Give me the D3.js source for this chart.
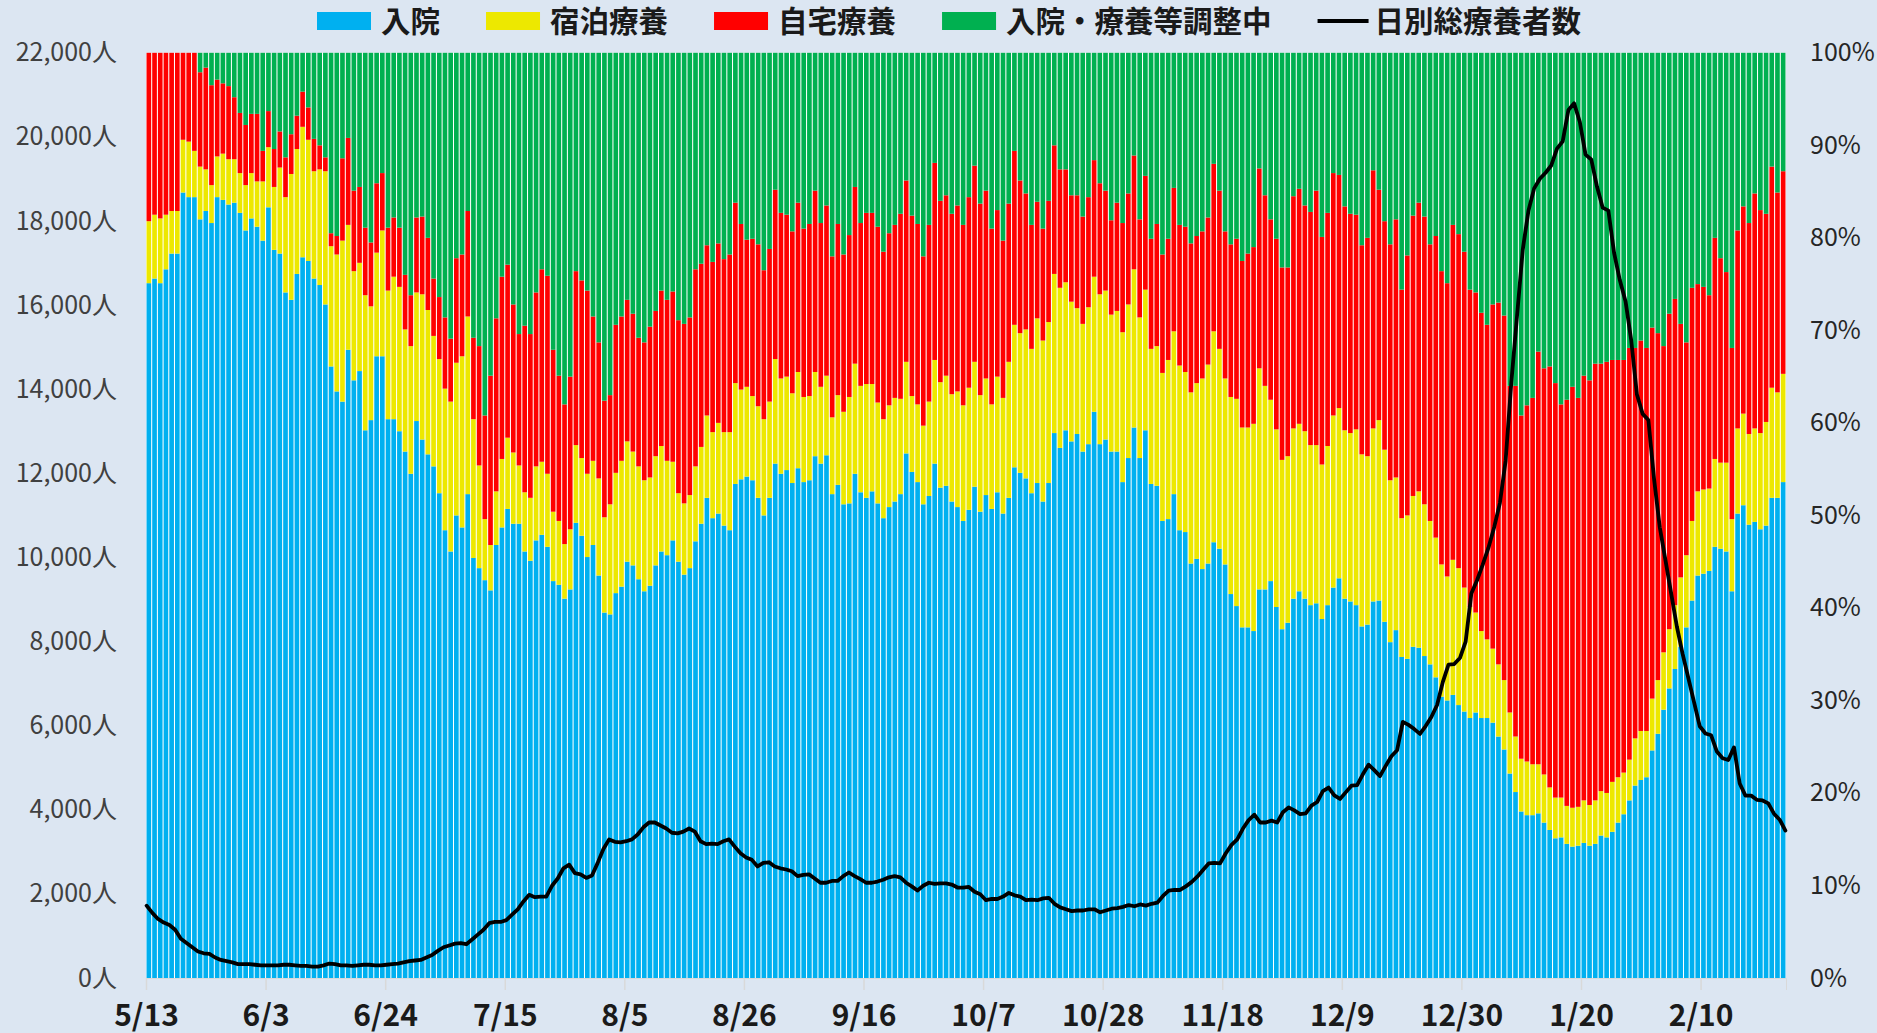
<!DOCTYPE html>
<html>
<head>
<meta charset="utf-8">
<script src="https://cdn.jsdelivr.net/npm/d3@7"></script>
<style>
  body { margin: 0; background: #dce6f2; }
  svg { display: block; font-family: "Noto Sans CJK JP", "Noto Sans", sans-serif; }
</style>
</head>
<body>
<svg id="chart" width="1877" height="1033"></svg>
<script>
const startDate = new Date(2020, 4, 13);
const seriesNames = ['入院', '宿泊療養', '自宅療養', '入院・療養等調整中'];
const seriesColors = ['#00b0f0', '#ede800', '#ff0000', '#00b050'];
const lineName = '日別総療養者数';
const tickLabels = ['5/13', '6/3', '6/24', '7/15', '8/5', '8/26', '9/16', '10/7', '10/28', '11/18', '12/9', '12/30', '1/20', '2/10'];

// share of each group (%), one value per day
const hosp = [
  75.1,75.6,75.1,76.6,78.3,78.3,84.9,84.4,84.4,82.0,
  82.9,81.6,84.4,84.1,83.6,83.8,82.7,80.8,82.1,81.2,
  79.7,83.3,78.7,78.3,74.1,73.3,76.1,77.9,77.5,75.6,
  74.9,72.8,66.1,63.4,62.3,67.9,64.6,65.6,59.2,60.3,
  67.2,67.2,60.4,60.4,59.1,56.9,54.5,60.2,58.2,56.6,
  55.3,52.4,48.4,46.1,50.0,48.7,52.3,45.4,44.3,43.0,
  41.9,46.8,48.7,50.7,49.1,49.1,46.1,45.1,47.3,47.9,
  46.6,42.9,42.5,41.0,42.0,49.2,47.8,45.5,46.8,43.5,
  39.5,39.3,41.6,42.3,45.0,44.6,43.1,41.8,42.4,44.6,
  46.1,45.7,47.3,45.0,43.6,44.3,47.2,49.1,51.9,49.7,
  50.2,48.9,48.4,53.4,53.9,54.2,53.8,51.9,50.0,51.9,
  55.6,54.5,54.9,53.5,55.1,53.6,53.8,56.4,55.6,56.5,
  52.3,53.3,51.2,51.3,54.5,52.5,51.9,52.6,51.3,49.7,
  50.9,51.5,52.3,56.7,54.7,53.6,51.2,52.1,55.6,53.0,
  53.2,51.5,50.9,49.4,50.6,53.1,50.4,52.2,50.7,52.5,
  50.2,51.9,55.2,54.6,54.0,52.4,53.5,51.5,53.5,58.9,
  57.3,59.2,58.0,58.8,56.9,57.7,61.2,57.7,58.2,56.9,
  56.9,53.6,56.2,59.5,56.2,59.2,53.4,53.2,49.4,49.6,
  52.3,48.4,48.2,44.8,45.3,44.2,44.8,47.1,46.4,44.7,
  41.5,40.2,37.9,37.9,37.5,42.0,42.0,42.9,40.1,37.7,
  38.4,41.0,41.8,41.0,40.3,40.5,38.8,40.3,42.2,43.2,
  41.0,40.7,40.3,38.0,38.2,40.7,40.8,38.5,36.3,37.6,
  34.7,34.5,35.8,35.7,34.8,33.9,32.5,30.4,30.0,30.6,
  29.5,28.8,28.1,28.7,28.1,28.1,27.6,26.1,24.7,22.1,
  20.1,18.0,17.6,17.6,17.8,16.8,16.0,15.1,15.2,14.5,
  14.2,14.3,14.6,14.3,14.5,15.4,15.2,15.8,16.8,17.7,
  19.2,20.8,21.4,21.7,24.6,26.4,29.0,31.3,33.4,35.8,
  37.9,40.8,43.5,43.7,44.0,46.6,46.4,46.1,41.8,50.2,
  51.1,49.0,49.3,48.5,48.9,51.9,51.9,53.6
];
const hotel = [
  6.7,6.9,7.0,5.9,4.6,4.6,5.7,6.0,5.0,5.7,
  4.5,4.1,4.4,5.0,4.9,4.7,4.3,4.9,4.9,4.9,
  6.4,6.5,6.8,9.3,10.3,13.6,13.5,14.1,13.1,11.6,
  12.5,14.4,13.0,14.8,17.4,13.5,11.8,11.7,14.6,12.3,
  11.2,13.6,13.9,15.4,15.6,13.2,13.8,13.9,15.7,15.6,
  14.1,14.5,15.3,16.2,16.5,18.5,19.2,15.0,11.1,6.6,
  4.9,5.8,7.4,7.7,7.7,6.3,6.4,6.8,8.0,7.9,
  7.9,7.5,6.9,5.9,6.5,8.4,8.4,9.0,9.1,10.5,
  10.3,11.9,13.0,13.6,13.0,12.3,12.2,12.0,11.7,11.8,
  11.4,10.2,8.5,7.4,7.7,7.9,8.1,8.3,8.9,9.3,
  9.8,10.1,10.6,10.9,9.7,9.7,9.1,9.9,10.4,10.4,
  11.3,10.3,10.1,9.7,10.4,9.2,9.1,9.1,8.3,8.6,
  8.3,9.7,10.0,11.5,11.9,11.5,12.3,11.6,10.9,10.7,
  11.0,11.2,10.3,9.9,8.2,8.4,8.5,10.2,11.2,11.4,
  11.9,11.6,12.5,12.5,13.2,13.5,12.6,12.6,11.3,12.5,
  12.5,14.7,15.4,15.1,16.1,15.6,17.8,17.4,17.4,17.2,
  17.3,16.0,15.1,13.6,13.8,14.8,14.6,16.2,16.1,14.8,
  15.2,16.2,16.6,17.1,15.2,15.2,14.6,15.1,16.0,17.2,
  17.6,17.8,17.3,18.5,19.0,20.6,21.5,22.8,21.6,20.1,
  21.3,22.4,21.6,21.6,22.4,23.9,22.0,19.6,19.2,18.3,
  18.0,18.4,18.1,18.1,17.3,17.1,16.7,17.2,18.6,18.4,
  18.2,18.2,19.0,18.6,18.2,18.7,19.5,18.6,17.5,16.5,
  15.0,15.5,16.3,16.9,16.4,15.5,15.1,14.3,13.4,14.6,
  14.8,13.4,12.0,10.8,9.4,8.5,8.0,7.8,7.5,6.6,
  6.0,5.7,5.8,5.5,5.3,5.2,4.6,4.4,4.3,4.1,
  4.2,4.2,4.6,4.4,4.7,4.8,4.8,5.4,4.9,4.5,
  4.4,5.1,5.3,5.0,5.6,5.8,6.2,6.4,6.9,7.5,
  7.8,8.6,9.1,9.1,8.9,9.5,9.3,9.6,7.8,9.2,
  9.9,9.8,10.1,10.4,11.2,11.9,11.4,11.7
];
const home = [
  18.2,17.5,17.9,17.5,17.1,17.1,9.4,9.6,10.6,10.2,
  11.0,10.8,8.3,7.6,7.9,6.7,6.5,6.5,6.4,7.3,
  3.3,3.9,4.1,3.9,4.3,4.3,3.6,3.8,3.5,3.5,
  2.6,1.5,1.4,2.0,8.9,9.4,8.7,8.2,7.3,6.9,
  7.5,6.2,6.8,6.4,6.4,5.9,5.5,8.1,8.4,7.8,
  6.2,6.7,7.7,6.8,11.3,11.0,11.4,8.8,12.9,11.2,
  18.3,18.7,19.7,18.7,16.0,14.2,18.0,17.7,18.8,20.8,
  21.4,17.5,15.7,15.1,16.5,18.8,19.2,19.8,15.6,14.7,
  12.6,11.8,16.0,15.6,15.3,14.9,13.9,14.9,16.3,15.7,
  16.8,17.4,18.4,18.7,19.4,19.2,21.3,19.8,18.4,18.4,
  19.4,18.7,19.2,19.5,17.9,15.9,17.0,17.5,16.1,16.5,
  18.3,17.9,17.5,17.5,18.3,18.2,18.6,19.6,17.7,18.4,
  17.4,18.5,17.0,17.5,19.1,17.6,18.5,18.5,19.0,18.1,
  18.6,18.7,20.0,19.6,19.5,19.5,18.3,19.1,21.3,19.6,
  19.5,19.5,20.1,19.5,20.6,21.2,20.7,20.3,19.0,18.0,
  17.0,17.1,18.8,16.5,14.7,13.4,12.6,12.1,13.1,13.9,
  12.8,12.2,11.5,12.2,11.6,11.9,12.6,12.0,10.8,10.2,
  11.7,11.8,12.0,12.3,10.6,12.3,11.9,13.2,12.8,13.1,
  15.5,15.2,15.7,16.1,15.9,15.9,15.9,18.1,17.1,15.9,
  16.5,17.3,18.0,18.8,19.1,21.6,20.6,19.5,20.6,20.8,
  20.4,25.1,25.4,24.4,25.2,27.5,24.6,25.2,26.2,25.2,
  24.2,23.7,23.2,22.6,23.6,27.9,24.9,24.7,25.5,27.9,
  24.7,28.1,30.3,31.2,31.1,29.9,32.6,31.7,31.7,36.2,
  36.1,36.3,34.3,34.6,34.4,34.0,37.2,39.1,39.4,35.3,
  37.9,37.1,38.5,39.6,44.6,43.9,45.5,44.8,42.5,43.9,
  45.5,44.2,45.9,45.9,47.2,46.2,46.6,45.6,45.1,44.6,
  44.5,42.2,42.2,41.4,40.1,37.5,33.1,34.1,33.1,27.4,
  23.0,25.2,22.4,21.9,20.9,23.9,22.1,20.6,18.5,21.4,
  22.4,22.8,25.4,24.1,22.5,23.9,21.6,21.9
];
const adjust = [
  0,0,0,0,0,0,0,0,0,2.1,
  1.6,3.5,2.9,3.3,3.6,4.8,6.5,7.8,6.6,6.6,
  10.6,6.3,10.4,8.5,11.3,8.8,6.8,4.2,5.9,9.3,
  10.0,11.3,19.5,19.8,11.4,9.2,14.9,14.5,18.9,20.5,
  14.1,13.0,18.9,17.8,18.9,24.0,26.2,17.8,17.7,20.0,
  24.4,26.4,28.6,30.9,22.2,21.8,17.1,30.8,31.7,39.2,
  34.9,28.7,24.2,22.9,27.2,30.4,29.5,30.4,25.9,23.4,
  24.1,32.1,34.9,38.0,35.0,23.6,24.6,25.7,28.5,31.3,
  37.6,37.0,29.4,28.5,26.7,28.2,30.8,31.3,29.6,27.9,
  25.7,26.7,25.8,28.9,29.3,28.6,23.4,22.8,20.8,22.6,
  20.6,22.3,21.8,16.2,18.5,20.2,20.1,20.7,23.5,21.2,
  14.8,17.3,17.5,19.3,16.2,19.0,18.5,14.9,18.4,16.5,
  22.0,18.5,21.8,19.7,14.5,18.4,17.3,17.3,18.8,21.5,
  19.5,18.6,17.4,13.8,17.6,18.5,22.0,18.6,11.9,16.0,
  15.4,17.4,16.5,18.6,15.6,12.2,16.3,14.9,19.0,17.0,
  20.3,16.3,10.6,13.8,15.2,18.6,16.1,19.0,16.0,10.0,
  12.6,12.6,15.4,15.4,17.7,15.6,11.6,14.1,14.9,18.1,
  16.2,18.4,15.2,11.1,18.0,13.3,20.1,18.5,21.8,20.1,
  14.6,18.6,18.8,20.6,19.8,19.3,17.8,12.0,14.9,19.3,
  20.7,20.1,22.5,21.7,21.0,12.5,15.4,18.0,20.1,23.2,
  23.2,15.5,14.7,16.5,17.2,14.9,19.9,17.3,13.0,13.2,
  16.6,17.4,17.5,20.8,20.0,12.7,14.8,18.2,20.7,18.0,
  25.6,21.9,17.6,16.2,17.7,20.7,19.8,23.6,24.9,18.6,
  19.6,21.5,25.6,25.9,28.1,29.4,27.2,27.0,28.4,36.0,
  36.0,39.2,38.1,37.3,32.3,34.1,33.9,35.7,38.0,37.5,
  36.1,37.3,34.9,35.4,33.6,33.6,33.4,33.2,33.2,33.2,
  31.9,31.9,31.1,31.9,29.7,30.3,31.7,28.2,26.6,29.3,
  31.3,25.4,25.0,25.3,26.2,20.0,22.2,23.7,31.9,19.2,
  16.6,18.4,15.2,17.0,17.4,12.3,15.1,12.8
];
// total people under care per day
const total = [
  1720,1548,1404,1318,1261,1147,932,831,731,631,
  588,573,487,430,401,373,330,330,330,315,
  301,301,301,301,315,315,301,287,287,272,
  272,301,344,330,301,301,287,301,315,315,
  301,301,315,330,344,373,401,416,430,487,
  545,645,731,774,817,831,803,917,1032,1147,
  1304,1333,1333,1376,1505,1634,1820,1978,1921,1935,
  1935,2193,2365,2609,2695,2494,2466,2380,2437,2738,
  3067,3296,3239,3225,3253,3296,3411,3583,3698,3698,
  3626,3554,3454,3439,3482,3554,3482,3253,3183,3196,
  3183,3253,3296,3124,2967,2866,2809,2652,2737,2752,
  2652,2609,2580,2537,2423,2451,2466,2365,2265,2265,
  2308,2308,2423,2509,2423,2351,2265,2265,2294,2337,
  2394,2423,2394,2265,2179,2079,2193,2265,2236,2251,
  2251,2222,2151,2151,2165,2050,1993,1850,1879,1879,
  1936,2022,1965,1936,1850,1865,1850,1893,1907,1764,
  1678,1634,1591,1605,1605,1634,1634,1562,1605,1648,
  1663,1691,1735,1706,1749,1720,1764,1792,1950,2079,
  2093,2093,2179,2280,2408,2566,2724,2738,2724,2967,
  3167,3296,3554,3755,3884,3698,3698,3741,3698,3942,
  4056,3985,3899,3913,4099,4185,4443,4529,4343,4257,
  4414,4572,4586,4844,5073,4944,4801,5044,5274,5417,
  6091,6019,5919,5804,5990,6205,6492,7036,7452,7466,
  7609,7996,9143,9458,9831,10232,10720,11293,12296,14160,
  15737,17314,18246,18776,19006,19149,19321,19723,19895,20640,
  20798,20354,19579,19464,18819,18317,18246,17242,16597,16095,
  15163,13873,13414,13270,11865,10717,9929,9140,8352,7707,
  7133,6560,5986,5814,5771,5384,5226,5183,5484,4624,
  4337,4337,4237,4222,4151,3907,3764,3506
];

const svg = d3.select('#chart');
const plotLeft = 146, plotRight = 1786, plotTop = 52.8, plotBottom = 978;

const dates = d3.timeDay.range(startDate, d3.timeDay.offset(startDate, hosp.length));
const keys = ['hosp', 'hotel', 'home', 'adjust'];
const table = dates.map((d, i) => ({
  date: d, hosp: hosp[i], hotel: hotel[i], home: home[i], adjust: adjust[i], total: total[i]
}));

const stacked = d3.stack().keys(keys).offset(d3.stackOffsetExpand)(table);

const x = d3.scaleBand()
  .domain(dates)
  .range([plotLeft, plotRight])
  .paddingInner(0.18)
  .paddingOuter(0.09);

const xTime = d3.scaleTime()
  .domain([startDate, d3.timeDay.offset(startDate, dates.length)])
  .range([plotLeft, plotRight]);

const xLine = d3.scaleTime()
  .domain([dates[0], dates[dates.length - 1]])
  .range([plotLeft + 0.6, plotRight - 0.6]);

const yPct = d3.scaleLinear().domain([0, 1]).range([plotBottom, plotTop]);
const yNum = d3.scaleLinear().domain([0, 22000]).range([plotBottom, plotTop]);

svg.append('rect')
  .attr('x', plotLeft)
  .attr('y', plotTop)
  .attr('width', plotRight - plotLeft)
  .attr('height', plotBottom - plotTop)
  .attr('fill', '#ffffff');

svg.append('g')
  .selectAll('g')
  .data(stacked)
  .join('g')
  .attr('fill', (d, i) => seriesColors[i])
  .selectAll('rect')
  .data(d => d)
  .join('rect')
  .attr('x', d => x(d.data.date))
  .attr('width', x.bandwidth())
  .attr('y', d => yPct(d[1]))
  .attr('height', d => yPct(d[0]) - yPct(d[1]));

const line = d3.line()
  .x(d => xLine(d.date))
  .y(d => yNum(d.total));

svg.append('path')
  .datum(table)
  .attr('d', line)
  .attr('fill', 'none')
  .attr('stroke', '#000000')
  .attr('stroke-width', 3.8)
  .attr('stroke-linejoin', 'round')
  .attr('stroke-linecap', 'round');

// axes
const tickDates = tickLabels.map((t, i) => dates[i * 21]);

const xAxis = svg.append('g')
  .attr('transform', `translate(0,${plotBottom})`)
  .call(d3.axisBottom(xTime)
    .tickValues(tickDates)
    .tickFormat((d, i) => tickLabels[i])
    .tickSizeOuter(0)
    .tickSize(12)
    .tickPadding(15));
xAxis.select('.domain').attr('stroke', '#d9d9d9');
xAxis.selectAll('.tick line').attr('stroke', '#d9d9d9').attr('stroke-width', 1.5);
xAxis.selectAll('.tick text')
  .attr('fill', '#1a1a1a')
  .attr('font-size', 30)
  .attr('font-weight', 'bold')
  .attr('font-family', '"Noto Sans CJK JP", sans-serif');

const yAxisL = svg.append('g')
  .attr('transform', `translate(${plotLeft},0)`)
  .call(d3.axisLeft(yNum)
    .tickValues(d3.range(0, 22001, 2000))
    .tickFormat(d => d3.format(',')(d) + '人')
    .tickSize(0)
    .tickPadding(29));
yAxisL.select('.domain').remove();
yAxisL.selectAll('.tick text')
  .attr('fill', '#404040')
  .attr('font-size', 25)
  .attr('font-family', '"Noto Sans CJK JP", sans-serif');

const yAxisR = svg.append('g')
  .attr('transform', `translate(${plotRight},0)`)
  .call(d3.axisRight(yPct)
    .tickValues(d3.range(0, 11).map(d => d / 10))
    .tickFormat(d3.format('.0%'))
    .tickSize(0)
    .tickPadding(24));
yAxisR.select('.domain').remove();
yAxisR.selectAll('.tick text')
  .attr('fill', '#262626')
  .attr('font-size', 25)
  .attr('font-family', '"Noto Sans CJK JP", sans-serif');

// legend
const legend = svg.append('g').attr('transform', 'translate(317,21)');
let lx = 0;
seriesNames.forEach((name, i) => {
  legend.append('rect')
    .attr('x', lx)
    .attr('y', -9)
    .attr('width', 54)
    .attr('height', 18)
    .attr('fill', seriesColors[i]);
  const t = legend.append('text')
    .attr('x', lx + 64)
    .attr('y', 0)
    .attr('dy', '0.36em')
    .attr('font-size', 29.5)
    .attr('font-weight', 'bold')
    .attr('fill', '#1a1a1a')
    .text(name);
  lx += 64 + t.node().getComputedTextLength() + 46;
});
legend.append('line')
  .attr('x1', lx)
  .attr('x2', lx + 51)
  .attr('y1', 0)
  .attr('y2', 0)
  .attr('stroke', '#000000')
  .attr('stroke-width', 4);
legend.append('text')
  .attr('x', lx + 57)
  .attr('y', 0)
  .attr('dy', '0.36em')
  .attr('font-size', 29.5)
  .attr('font-weight', 'bold')
  .attr('fill', '#1a1a1a')
  .text(lineName);
</script>
</body>
</html>
